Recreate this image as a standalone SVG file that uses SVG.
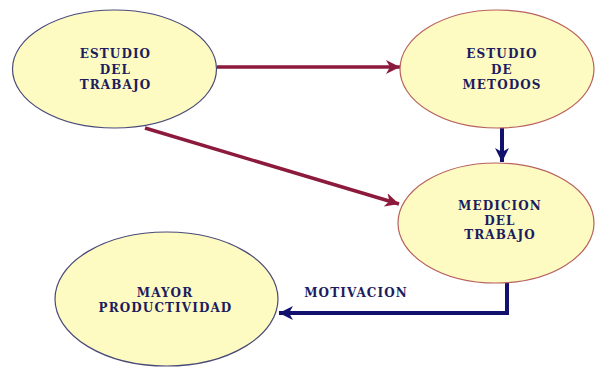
<svg xmlns="http://www.w3.org/2000/svg" width="595" height="369" viewBox="0 0 595 369">
  <style>
    .node-blue { fill: #fdfbc2; stroke: #4a4a78; stroke-width: 1.2; }
    .node-red { fill: #fdfbc2; stroke: #b8615e; stroke-width: 1.2; }
    .label { font-family: "DejaVu Serif", "Liberation Serif", serif; font-weight: bold; font-size: 12px; letter-spacing: 1.1px; fill: #1c1c5e; text-anchor: middle; }
    .link-red { fill: none; stroke: #8c1a3c; stroke-width: 3.5; }
    .link-blue { fill: none; stroke: #12126e; stroke-width: 4; }
  </style>
  <defs>
    <marker id="head-red" markerUnits="userSpaceOnUse" markerWidth="16" markerHeight="14" refX="14" refY="7" orient="auto">
      <path d="M0,0 L14,7 L0,14 L4,7 Z" fill="#8c1a3c"/>
    </marker>
    <marker id="head-blue" markerUnits="userSpaceOnUse" markerWidth="16" markerHeight="14" refX="14" refY="7" orient="auto">
      <path d="M0,0 L14,7 L0,14 L4,7 Z" fill="#12126e"/>
    </marker>
  </defs>

  <g id="connectors">
    <line class="link-red" x1="217" y1="67" x2="400" y2="67" marker-end="url(#head-red)"/>
    <line class="link-red" x1="145" y1="128" x2="399" y2="204" marker-end="url(#head-red)"/>
    <line class="link-blue" x1="502" y1="128" x2="502" y2="162" marker-end="url(#head-blue)"/>
    <polyline class="link-blue" points="507,282 507,313 279,313" marker-end="url(#head-blue)"/>
    <text class="label" x="356" y="297">MOTIVACION</text>
  </g>

  <g id="estudio-trabajo">
    <ellipse class="node-blue" cx="114.5" cy="69" rx="102" ry="59"/>
    <text class="label" x="115.5" y="58">ESTUDIO</text>
    <text class="label" x="115.5" y="74">DEL</text>
    <text class="label" x="115.5" y="88.5">TRABAJO</text>
  </g>

  <g id="estudio-metodos">
    <ellipse class="node-red" cx="497" cy="69" rx="97" ry="59"/>
    <text class="label" x="502" y="58">ESTUDIO</text>
    <text class="label" x="502" y="73.5">DE</text>
    <text class="label" x="502" y="88.5">METODOS</text>
  </g>

  <g id="medicion-trabajo">
    <ellipse class="node-red" cx="496" cy="223" rx="98" ry="60"/>
    <text class="label" x="500" y="210">MEDICION</text>
    <text class="label" x="500" y="224.5">DEL</text>
    <text class="label" x="500" y="238.5">TRABAJO</text>
  </g>

  <g id="mayor-productividad">
    <ellipse class="node-blue" cx="166.5" cy="299" rx="111.5" ry="67"/>
    <text class="label" x="165" y="297">MAYOR</text>
    <text class="label" x="165.5" y="312">PRODUCTIVIDAD</text>
  </g>
</svg>
